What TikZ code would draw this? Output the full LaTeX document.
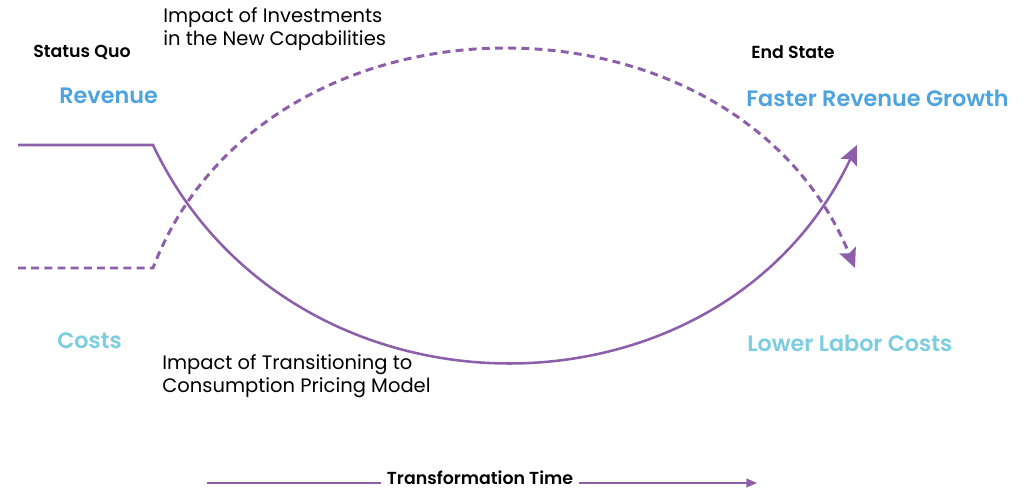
\documentclass[tikz,border=0pt]{standalone}
\usepackage{fontspec}
\setmainfont{Poppins}[BoldFont={Poppins SemiBold}]
\usetikzlibrary{arrows.meta}
\definecolor{tpurple}{HTML}{8D5FAB}
\definecolor{trevenue}{HTML}{4CA3DD}
\definecolor{tcost}{HTML}{7DCDE0}
\tikzset{
  phase/.style={font=\fontsize{9.9}{12}\selectfont\bfseries, text=black, inner sep=0pt},
  revlabel/.style={font=\fontsize{12.7}{15}\selectfont\bfseries, text=trevenue,
                   inner sep=0pt, anchor=west},
  costlabel/.style={revlabel, text=tcost},
  impact/.style={font=\fontsize{11.1}{13}\selectfont, align=left, anchor=west, inner sep=0pt},
  revline/.style={tpurple, line width=1.45pt, -{Stealth[length=11pt,width=10pt,inset=2pt]}},
  costline/.style={revline, line width=1.7pt, dash pattern=on 4.5pt off 3pt},
  timeaxis/.style={tpurple, line width=0.8pt},
}

\begin{document}
\begin{tikzpicture}[x=0.02cm, y=-0.02cm]
  \path[use as bounding box] (0,0) rectangle (1031,489);

  % phase headings and labels
  \node[phase, anchor=west] (quo) at (33,52) {Status Quo};
  \node[phase, anchor=west] (endst) at (751,52) {End State};
  \node[revlabel] (rev) at (59,96) {Revenue};
  \node[costlabel] (cost) at (57,341) {Costs};
  \node[revlabel] (fastrev) at (746,98) {Faster Revenue Growth};
  \node[costlabel] (lowcost) at (747,343) {Lower Labor Costs};
  \node[impact] (invest) at (163,29.5) {Impact of Investments\\in the New Capabilities};
  \node[impact] (pricing) at (162,376.5) {Impact of Transitioning to\\Consumption Pricing Model};

  % revenue and cost curves
  \coordinate (rev0) at (18,145);
  \coordinate (rev1) at (153,145);
  \coordinate (rev2) at (857,145);
  \coordinate (cost0) at (18,268);
  \coordinate (cost1) at (153,268);
  \coordinate (cost2) at (855,268);
  \draw[revline] (rev0) -- (rev1) .. controls (290,434) and (720,434) .. (rev2);
  \draw[costline] (cost0) -- (cost1) .. controls (265,-23) and (735,-23) .. (cost2);

  % time axis
  \node[phase, inner sep=3pt] (ttime) at (480,478) {Transformation Time};
  \coordinate (t0) at (207,483);
  \coordinate (t1) at (757,483);
  \draw[timeaxis] (t0) -- (ttime.west |- t0);
  \draw[timeaxis, -{Triangle[length=6pt,width=5pt]}] (ttime.east |- t0) -- (t1);
\end{tikzpicture}
\end{document}
